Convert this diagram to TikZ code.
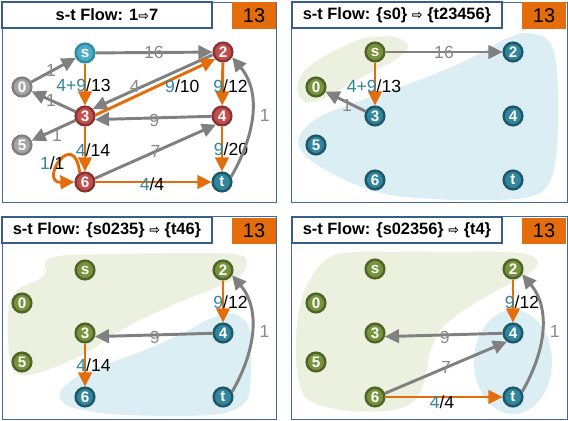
\documentclass[tikz,border=0pt]{standalone}
\usepackage{fontspec}
\setmainfont{Liberation Sans}
\newfontfamily\arrowfont{DejaVu Sans}
\usepackage{tikz}
\usetikzlibrary{arrows.meta}
\definecolor{framecol}{HTML}{41699C}
\definecolor{titlecol}{HTML}{385D8A}
\definecolor{countorange}{HTML}{E46C0A}
\definecolor{floworange}{HTML}{E46C0A}
\definecolor{edgegrey}{HTML}{808080}
\definecolor{lblgrey}{HTML}{898989}
\definecolor{flowteal}{HTML}{31859C}
\definecolor{nodered}{HTML}{C0504D}
\definecolor{nodereddark}{HTML}{8C3230}
\definecolor{nodecyan}{HTML}{4BACC6}
\definecolor{nodecyandark}{HTML}{2E8AA5}
\definecolor{nodegrey}{HTML}{A5A5A5}
\definecolor{nodegreydark}{HTML}{7F7F7F}
\definecolor{nodeteal}{HTML}{31859C}
\definecolor{nodetealdark}{HTML}{1F5668}
\definecolor{nodegreen}{HTML}{77933C}
\definecolor{nodegreendark}{HTML}{4F6228}
\definecolor{zonegreen}{HTML}{EBF1DE}
\definecolor{zoneblue}{HTML}{DAEEF3}
\newcommand{\flowval}[2]{\textcolor{flowteal}{#1}/#2}
\newcommand{\into}{{\arrowfont\fontsize{11}{11}\selectfont ⇨}}

\begin{document}
\begin{tikzpicture}[x=0.03cm, y=-0.03cm,
  panel/.style = {draw=framecol, line width=0.8pt, fill=white},
  titlebox/.style = {draw=titlecol, line width=1.8pt, fill=white,
                     minimum width=6.3cm, minimum height=0.78cm,
                     font=\bfseries\fontsize{14}{14}\selectfont},
  countbox/.style = {fill=countorange, minimum width=1.32cm, minimum height=0.8cm,
                     font=\fontsize{17}{17}\selectfont},
  vtx/.style = {circle, minimum size=16pt, inner sep=0pt, line width=2pt,
                text=white, font=\bfseries\fontsize{13}{13}\selectfont},
  redv/.style = {vtx, fill=nodered, draw=nodereddark},
  srcv/.style = {vtx, fill=nodecyan, draw=nodecyandark},
  greyv/.style = {vtx, fill=nodegrey, draw=nodegreydark},
  sinkv/.style = {vtx, fill=nodeteal, draw=nodetealdark},
  sidev/.style = {vtx, fill=nodegreen, draw=nodegreendark},
  resarr/.style = {-{Triangle[length=12pt,width=11.5pt]}, line width=2.5pt, edgegrey},
  flowarr/.style = {-{Triangle[length=12pt,width=11.5pt]}, line width=2.5pt, floworange},
  caplbl/.style = {inner sep=0pt, text=lblgrey, font=\fontsize{15}{15}\selectfont},
  flowlbl/.style = {inner sep=0pt, text=black, font=\fontsize{15}{15}\selectfont},
]
\useasboundingbox (0,0) rectangle (568,420);

% Panel frames
\draw[panel] (2,2) rectangle (276,202);
\draw[panel] (291,2) rectangle (567,202);
\draw[panel] (2,216) rectangle (276,419);
\draw[panel] (291,216) rectangle (567,419);

% Cut regions
\fill[zonegreen] plot[smooth cycle] coordinates {(297,88) (305,70) (330,53) (365,38)
  (395,37) (408,46) (395,60) (360,78) (325,98) (305,102)};
\fill[zoneblue] plot[smooth cycle] coordinates {(298,143) (305,128) (323,115) (357,102)
  (400,87) (440,72) (477,55) (503,40) (525,33) (548,40) (557,70) (557,150) (548,185)
  (525,198) (460,200) (390,195) (345,180) (310,160)};
\fill[zonegreen] plot[smooth cycle] coordinates {(46,261) (70,255) (200,253) (240,255)
  (247,263) (240,276) (215,288) (180,302) (140,320) (110,337) (88,352) (60,365)
  (30,375) (13,370) (8,340) (9,305) (18,289) (38,280) (46,272)};
\fill[zoneblue] plot[smooth cycle] coordinates {(60,392) (78,376) (110,363) (150,348)
  (185,332) (212,318) (235,314) (250,330) (251,370) (247,400) (225,413) (180,416)
  (110,414) (68,406)};
\fill[zonegreen] plot[smooth cycle] coordinates {(334,255) (400,252) (500,252) (530,255)
  (538,264) (525,276) (498,290) (467,308) (442,328) (430,352) (425,380) (415,400)
  (394,410) (350,411) (308,400) (297,370) (297,325) (307,285)};
\fill[zoneblue] (513,362) ellipse (39 and 52);

% Panel 1: flow network
\node[srcv] (A-s) at (85,53) {s};
\node[redv] (A-2) at (223,52) {2};
\node[greyv] (A-0) at (22,87) {0};
\node[redv] (A-3) at (85,116) {3};
\node[redv] (A-4) at (222,116) {4};
\node[greyv] (A-5) at (22,145) {5};
\node[redv] (A-6) at (85,182) {6};
\node[sinkv] (A-t) at (222,182) {t};

\draw[resarr] (A-s) -- node[caplbl] {16} (A-2);
\draw[resarr] (A-0) -- node[caplbl, shift={(-2.5,0)}] {1} (A-s);
\draw[resarr] (A-3) -- node[caplbl, shift={(-2.5,-1.5)}] {1} (A-0);
\draw[resarr] (A-3) -- node[caplbl, shift={(3.5,4.5)}] {1} (A-5);
\draw[resarr] (A-2.195) -- node[caplbl, shift={(-18,5)}] {4} (A-3.42);
\draw[flowarr] (A-3.5) -- node[flowlbl, shift={(27,-1)}] {\flowval{9}{10}} (A-2.222);
\draw[flowarr] (A-s) -- node[flowlbl, shift={(-1.5,1)}] {\flowval{4+9}{13}} (A-3);
\draw[flowarr] (A-2) -- node[flowlbl, shift={(8,2)}] {\flowval{9}{12}} (A-4);
\draw[resarr] (A-4) -- node[caplbl, shift={(1,2)}] {9} (A-3.-20);
\draw[flowarr] (A-3) -- node[flowlbl, shift={(8,1)}] {\flowval{4}{14}} (A-6);
\draw[resarr] (A-6.20) -- node[caplbl] {7} (A-4.235);
\draw[flowarr] (A-4) -- node[flowlbl, shift={(9,0)}] {\flowval{9}{20}} (A-t);
\draw[flowarr] (A-6) -- node[flowlbl, shift={(-1.5,2)}] {\flowval{4}{4}} (A-t);
\draw[resarr] (A-t.30) to[out=60, in=-50] node[caplbl, shift={(13,0)}] {1} (A-2.-30);
\draw[flowarr] (A-6.120) .. controls (74,126) and (38,183) .. (A-6.west)
  node[flowlbl, pos=0.5, shift={(-9,3)}] {\flowval{1}{1}};

% Panel 2: cut {s0}
\node[sidev] (B-s) at (375,52) {s};
\node[sinkv] (B-2) at (513,52) {2};
\node[sidev] (B-0) at (316,87) {0};
\node[sinkv] (B-3) at (375,116) {3};
\node[sinkv] (B-4) at (513,116) {4};
\node[sinkv] (B-5) at (316,145) {5};
\node[sinkv] (B-6) at (375,180) {6};
\node[sinkv] (B-t) at (513,180) {t};

\draw[resarr] (B-s) -- node[caplbl] {16} (B-2);
\draw[flowarr] (B-s) -- node[flowlbl, shift={(-1,2)}] {\flowval{4+9}{13}} (B-3);
\draw[resarr] (B-3) -- node[caplbl, shift={(1.5,3.5)}] {1} (B-0);

% Panel 3: cut {s0235}
\node[sidev] (C-s) at (85,270) {s};
\node[sidev] (C-2) at (223,270) {2};
\node[sidev] (C-0) at (22,303) {0};
\node[sidev] (C-3) at (85,333) {3};
\node[sinkv] (C-4) at (223,333) {4};
\node[sidev] (C-5) at (22,362) {5};
\node[sinkv] (C-6) at (85,397) {6};
\node[sinkv] (C-t) at (223,397) {t};

\draw[flowarr] (C-2) -- node[flowlbl, shift={(7.5,0.5)}] {\flowval{9}{12}} (C-4);
\draw[resarr] (C-4) -- node[caplbl, shift={(1,2)}] {9} (C-3.-20);
\draw[flowarr] (C-3) -- node[flowlbl, shift={(8.5,0)}] {\flowval{4}{14}} (C-6);
\draw[resarr] (C-t.30) to[out=60, in=-50] node[caplbl, shift={(13,0)}] {1} (C-2.-30);

% Panel 4: cut {s02356}
\node[sidev] (D-s) at (375,269) {s};
\node[sidev] (D-2) at (513,269) {2};
\node[sidev] (D-0) at (316,303) {0};
\node[sidev] (D-3) at (375,333) {3};
\node[sinkv] (D-4) at (513,333) {4};
\node[sidev] (D-5) at (316,362) {5};
\node[sidev] (D-6) at (375,397) {6};
\node[sinkv] (D-t) at (513,397) {t};

\draw[flowarr] (D-2) -- node[flowlbl, shift={(9,1)}] {\flowval{9}{12}} (D-4);
\draw[resarr] (D-4) -- node[caplbl, shift={(1,2)}] {9} (D-3.-20);
\draw[resarr] (D-6.20) -- node[caplbl] {7} (D-4.235);
\draw[flowarr] (D-6) -- node[flowlbl, shift={(-2,5)}] {\flowval{4}{4}} (D-t);
\draw[resarr] (D-t.30) to[out=60, in=-50] node[caplbl, shift={(13,0)}] {1} (D-2.-30);

% Titles
\node[titlebox] (A-title) at (107,15) {s-t Flow: 1\into7};
\node[titlebox] (B-title) at (397,15) {s-t Flow: \{s0\} \into\ \{t23456\}};
\node[titlebox] (C-title) at (107,230) {s-t Flow: \{s0235\} \into\ \{t46\}};
\node[titlebox] (D-title) at (397,230) {s-t Flow: \{s02356\} \into\ \{t4\}};
\node[countbox] (A-count) at (254,15.5) {13};
\node[countbox] (B-count) at (544,15.5) {13};
\node[countbox] (C-count) at (254,231) {13};
\node[countbox] (D-count) at (544,231) {13};
\end{tikzpicture}
\end{document}
